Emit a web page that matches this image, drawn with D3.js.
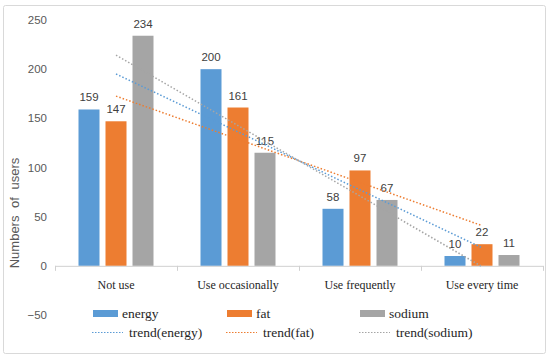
<!DOCTYPE html>
<html>
<head>
<meta charset="utf-8">
<script src="https://cdn.jsdelivr.net/npm/d3@7"></script>
<style>
  body { margin: 0; background: #fff; }
  svg { display: block; }
  .serif { font-family: 'Liberation Serif', 'Times New Roman', serif; }
  .sans { font-family: 'Liberation Sans', Arial, sans-serif; }
</style>
</head>
<body>
<svg></svg>
<script>
// bar chart with linear trend lines

var categories = ["Not use", "Use occasionally", "Use frequently", "Use every time"];
var seriesNames = ["energy", "fat", "sodium"];
var energy = [159, 200, 58, 10];
var fat = [147, 161, 97, 22];
var sodium = [234, 115, 67, 11];
var yTicks = [-50, 0, 50, 100, 150, 200, 250];

var colors = {energy: "#5B9BD5", fat: "#ED7D31", sodium: "#A5A5A5"};
var values = {energy: energy, fat: fat, sodium: sodium};

var width = 550, height = 359;
var svg = d3.select("svg").attr("width", width).attr("height", height);

// outer frame
svg.append("rect")
    .attr("x", 3.5).attr("y", 5.5)
    .attr("width", 542).attr("height", 348)
    .attr("rx", 2)
    .attr("fill", "#fff")
    .attr("stroke", "#d9d9d9");

var x = d3.scaleBand().domain(categories).range([55, 543]);
var xs = d3.scaleBand().domain(seriesNames).range([0, 75]).paddingInner(6 / 27);
var y = d3.scaleLinear().domain([-50, 250]).range([315, 20]);

function center(c) { return x(c) + x.bandwidth() / 2; }

// y tick labels
svg.append("g").attr("class", "sans").selectAll("text")
    .data(yTicks)
    .enter().append("text")
    .attr("x", 47)
    .attr("y", function(d) { return y(d); })
    .attr("dy", "0.35em")
    .attr("text-anchor", "end")
    .attr("font-size", 11.5)
    .attr("fill", "#595959")
    .text(function(d) { return d < 0 ? "\u2212" + Math.abs(d) : d; });

// y axis title
svg.append("text")
    .attr("class", "sans")
    .attr("transform", "translate(19," + 213 + ") rotate(-90)")
    .attr("text-anchor", "middle")
    .attr("font-size", 13)
    .attr("word-spacing", 4)
    .attr("fill", "#595959")
    .text("Numbers of users");

// bars
var groups = svg.append("g").selectAll("g")
    .data(categories)
    .enter().append("g")
    .attr("transform", function(c) { return "translate(" + (center(c) - 37.5) + ",0)"; });

groups.selectAll("rect")
    .data(function(c, i) {
        return seriesNames.map(function(s) { return {s: s, v: values[s][i]}; });
    })
    .enter().append("rect")
    .attr("x", function(d) { return xs(d.s); })
    .attr("width", xs.bandwidth())
    .attr("y", function(d) { return y(d.v); })
    .attr("height", function(d) { return y(0) - y(d.v); })
    .attr("fill", function(d) { return colors[d.s]; });

// x axis line + ticks
var axis = svg.append("g").attr("stroke", "#d0d0d0");
axis.append("line")
    .attr("x1", 55).attr("x2", 543)
    .attr("y1", y(0) + 0.5).attr("y2", y(0) + 0.5);
axis.selectAll("line.tick")
    .data(categories.concat([null]))
    .enter().append("line")
    .attr("class", "tick")
    .attr("x1", function(c) { return (c ? x(c) : x.range()[1]) + 0.5; })
    .attr("x2", function(c) { return (c ? x(c) : x.range()[1]) + 0.5; })
    .attr("y1", y(0)).attr("y2", y(0) + 5);

// category labels
svg.append("g").attr("class", "serif").selectAll("text")
    .data(categories)
    .enter().append("text")
    .attr("x", center)
    .attr("y", 289)
    .attr("text-anchor", "middle")
    .attr("font-size", 12)
    .attr("fill", "#262626")
    .text(function(c) { return c; });

// trend lines (least squares over category index)
function trend(vals) {
    var n = vals.length;
    var mx = d3.mean(vals, function(v, i) { return i + 1; });
    var my = d3.mean(vals);
    var sxy = d3.sum(vals, function(v, i) { return (i + 1 - mx) * (v - my); });
    var sxx = d3.sum(vals, function(v, i) { return (i + 1 - mx) * (i + 1 - mx); });
    var b = sxy / sxx, a = my - b * mx;
    return [1, n].map(function(k) { return [center(categories[k - 1]), y(a + b * k)]; });
}

var line = d3.line();
seriesNames.forEach(function(s) {
    svg.append("path")
        .attr("d", line(trend(values[s])))
        .attr("fill", "none")
        .attr("stroke", colors[s])
        .attr("stroke-width", 1.5)
        .attr("stroke-dasharray", "1.5,2");
});

// value labels
groups.selectAll("text")
    .data(function(c, i) {
        return seriesNames.map(function(s) { return {s: s, v: values[s][i]}; });
    })
    .enter().append("text")
    .attr("class", "sans")
    .attr("x", function(d) { return xs(d.s) + xs.bandwidth() / 2; })
    .attr("y", function(d) { return y(d.v) - 8; })
    .attr("text-anchor", "middle")
    .attr("font-size", 11.5)
    .attr("fill", "#404040")
    .text(function(d) { return d.v; });

// legend
var legX = [93, 227, 360];
var leg = svg.append("g")
    .attr("class", "serif")
    .attr("font-size", 13.5)
    .attr("fill", "#262626");

seriesNames.forEach(function(s, i) {
    leg.append("rect")
        .attr("x", legX[i]).attr("y", 310)
        .attr("width", 25).attr("height", 7)
        .attr("fill", colors[s]);
    leg.append("text")
        .attr("x", legX[i] + 29).attr("y", 313.5)
        .attr("dy", "0.35em")
        .text(s);
    leg.append("line")
        .attr("x1", legX[i] - 1).attr("x2", legX[i] + 30)
        .attr("y1", 332.5).attr("y2", 332.5)
        .attr("stroke", colors[s])
        .attr("stroke-width", 1)
        .attr("stroke-dasharray", "1.5,1.5");
    leg.append("text")
        .attr("x", legX[i] + 36).attr("y", 332.5)
        .attr("dy", "0.35em")
        .text("trend(" + s + ")");
});
</script>
</body>
</html>
